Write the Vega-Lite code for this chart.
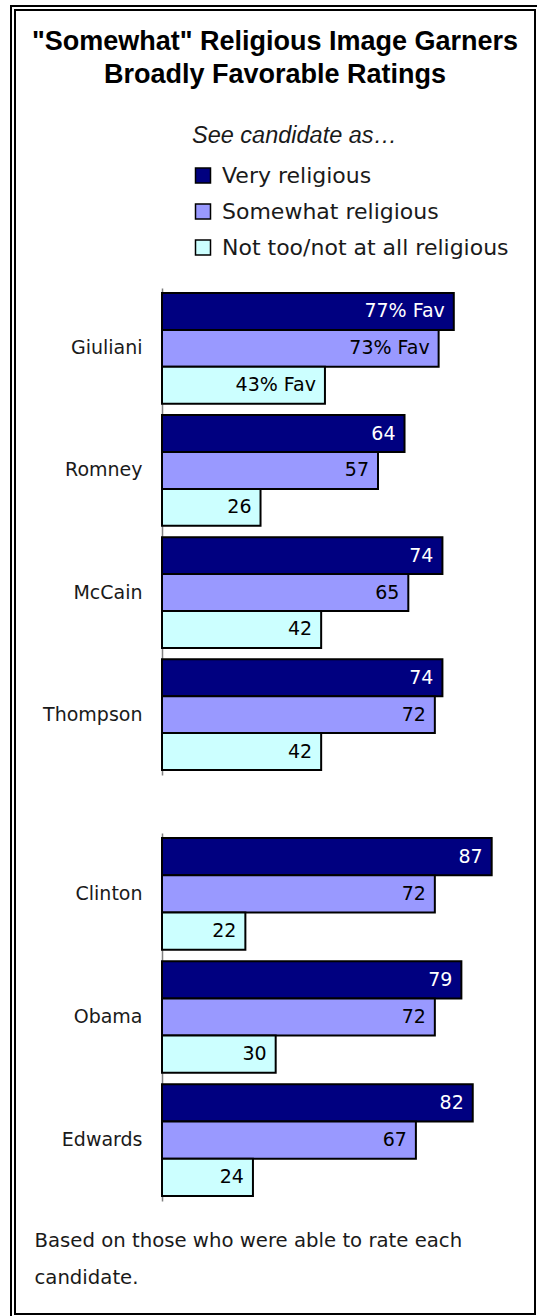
{
  "$schema": "https://vega.github.io/schema/vega-lite/v6.json",
  "width": 524,
  "height": 1308,
  "autosize": {"type": "none"},
  "padding": {"left": 13, "top": 8, "right": 0, "bottom": 0},
  "background": "white",
  "title": {
    "text": ["\"Somewhat\" Religious Image Garners", "Broadly Favorable Ratings"],
    "font": "Liberation Sans",
    "fontSize": 27,
    "fontWeight": "bold",
    "color": "black",
    "lineHeight": 33,
    "anchor": "middle",
    "frame": "group",
    "baseline": "top",
    "offset": -82
  },
  "datasets": {
    "frame": [{"id": 1}],
    "rep": [
      {"candidate": "Giuliani", "category": "Very religious", "value": 77, "label": "77% Fav"},
      {"candidate": "Giuliani", "category": "Somewhat religious", "value": 73, "label": "73% Fav"},
      {"candidate": "Giuliani", "category": "Not too/not at all religious", "value": 43, "label": "43% Fav"},
      {"candidate": "Romney", "category": "Very religious", "value": 64, "label": "64"},
      {"candidate": "Romney", "category": "Somewhat religious", "value": 57, "label": "57"},
      {"candidate": "Romney", "category": "Not too/not at all religious", "value": 26, "label": "26"},
      {"candidate": "McCain", "category": "Very religious", "value": 74, "label": "74"},
      {"candidate": "McCain", "category": "Somewhat religious", "value": 65, "label": "65"},
      {"candidate": "McCain", "category": "Not too/not at all religious", "value": 42, "label": "42"},
      {"candidate": "Thompson", "category": "Very religious", "value": 74, "label": "74"},
      {"candidate": "Thompson", "category": "Somewhat religious", "value": 72, "label": "72"},
      {"candidate": "Thompson", "category": "Not too/not at all religious", "value": 42, "label": "42"}
    ],
    "dem": [
      {"candidate": "Clinton", "category": "Very religious", "value": 87, "label": "87"},
      {"candidate": "Clinton", "category": "Somewhat religious", "value": 72, "label": "72"},
      {"candidate": "Clinton", "category": "Not too/not at all religious", "value": 22, "label": "22"},
      {"candidate": "Obama", "category": "Very religious", "value": 79, "label": "79"},
      {"candidate": "Obama", "category": "Somewhat religious", "value": 72, "label": "72"},
      {"candidate": "Obama", "category": "Not too/not at all religious", "value": 30, "label": "30"},
      {"candidate": "Edwards", "category": "Very religious", "value": 82, "label": "82"},
      {"candidate": "Edwards", "category": "Somewhat religious", "value": 67, "label": "67"},
      {"candidate": "Edwards", "category": "Not too/not at all religious", "value": 24, "label": "24"}
    ]
  },
  "layer": [
    {
      "data": {"name": "frame"},
      "mark": {"type": "rect", "fill": "transparent", "stroke": "white", "strokeWidth": 2, "clip": false},
      "encoding": {}
    },
    {
      "data": {"name": "rep"},
      "layer": [
        {
          "mark": {"type": "bar", "stroke": "black", "strokeWidth": 2},
          "encoding": {
            "y": {
              "field": "candidate", "type": "nominal",
              "scale": {"domain": ["Giuliani", "Romney", "McCain", "Thompson"], "range": [280, 767], "paddingInner": 0.094, "paddingOuter": 0.041},
              "axis": {"orient": "left", "offset": -149, "title": null, "ticks": false, "domain": true, "domainColor": "#808080", "domainWidth": 1.5, "labelPadding": 20, "labelFont": "DejaVu Sans", "labelFontSize": 19, "labelColor": "#1a1a1a", "grid": false}
            },
            "yOffset": {
              "field": "category", "type": "nominal",
              "sort": ["Very religious", "Somewhat religious", "Not too/not at all religious"],
              "scale": {"paddingInner": 0, "paddingOuter": 0}
            },
            "x": {
              "field": "value", "type": "quantitative",
              "scale": {"domain": [0, 95], "range": [149, 509], "nice": false, "zero": true},
              "axis": {"orient": "bottom", "domain": false, "ticks": false, "labels": false, "grid": false,
                "title": ["Based on those who were able to rate each", "candidate."],
                "titleFont": "DejaVu Sans", "titleFontSize": 19.7, "titleFontWeight": "normal", "titleColor": "#1a1a1a",
                "titleLineHeight": 37, "titleBaseline": "top", "titleAlign": "left", "titleAnchor": "start", "titleX": 21, "titleY": -86, "titleLimit": 600}
            },
            "color": {
              "field": "category", "type": "nominal",
              "scale": {"domain": ["Very religious", "Somewhat religious", "Not too/not at all religious"], "range": ["#000080", "#9999ff", "#ccffff"]},
              "legend": {"title": "See candidate as…", "orient": "none", "legendX": 179, "legendY": 116, "padding": 0,
                "titleFont": "Liberation Sans", "titleFontSize": 23.5, "titleFontStyle": "italic", "titleFontWeight": "normal", "titleColor": "#1a1a1a", "titlePadding": 17, "titleLimit": 400,
                "symbolType": "square", "symbolSize": 225, "symbolStrokeColor": "black", "symbolStrokeWidth": 1.5,
                "labelFont": "DejaVu Sans", "labelFontSize": 22, "labelColor": "#1a1a1a", "labelOffset": 8, "rowPadding": 14, "labelLimit": 400}
            }
          }
        },
        {
          "mark": {"type": "text", "align": "right", "baseline": "middle", "dx": -9, "font": "DejaVu Sans", "fontSize": 19},
          "encoding": {
            "y": {"field": "candidate", "type": "nominal"},
            "yOffset": {"field": "category", "type": "nominal", "sort": ["Very religious", "Somewhat religious", "Not too/not at all religious"]},
            "x": {"field": "value", "type": "quantitative"},
            "text": {"field": "label"},
            "color": {"condition": {"test": "datum.category == 'Very religious'", "value": "white"}, "value": "black"}
          }
        }
      ]
    },
    {
      "data": {"name": "dem"},
      "layer": [
        {
          "mark": {"type": "bar", "stroke": "black", "strokeWidth": 2},
          "encoding": {
            "y": {
              "field": "candidate", "type": "nominal",
              "scale": {"domain": ["Clinton", "Obama", "Edwards"], "range": [825, 1193], "paddingInner": 0.094, "paddingOuter": 0.041},
              "axis": {"orient": "left", "offset": -149, "title": null, "ticks": false, "domain": true, "domainColor": "#808080", "domainWidth": 1.5, "labelPadding": 20, "labelFont": "DejaVu Sans", "labelFontSize": 19, "labelColor": "#1a1a1a", "grid": false}
            },
            "yOffset": {
              "field": "category", "type": "nominal",
              "sort": ["Very religious", "Somewhat religious", "Not too/not at all religious"],
              "scale": {"paddingInner": 0, "paddingOuter": 0}
            },
            "x": {
              "field": "value", "type": "quantitative",
              "axis": {"orient": "bottom", "domain": false, "ticks": false, "labels": false, "grid": false,
                "title": ["Based on those who were able to rate each", "candidate."],
                "titleFont": "DejaVu Sans", "titleFontSize": 19.7, "titleFontWeight": "normal", "titleColor": "#1a1a1a",
                "titleLineHeight": 37, "titleBaseline": "top", "titleAlign": "left", "titleAnchor": "start", "titleX": 21, "titleY": -86, "titleLimit": 600}
            },
            "color": {
              "field": "category", "type": "nominal",
              "legend": {"title": "See candidate as…", "orient": "none", "legendX": 179, "legendY": 116, "padding": 0,
                "titleFont": "Liberation Sans", "titleFontSize": 23.5, "titleFontStyle": "italic", "titleFontWeight": "normal", "titleColor": "#1a1a1a", "titlePadding": 17, "titleLimit": 400,
                "symbolType": "square", "symbolSize": 225, "symbolStrokeColor": "black", "symbolStrokeWidth": 1.5,
                "labelFont": "DejaVu Sans", "labelFontSize": 22, "labelColor": "#1a1a1a", "labelOffset": 8, "rowPadding": 14, "labelLimit": 400}
            }
          }
        },
        {
          "mark": {"type": "text", "align": "right", "baseline": "middle", "dx": -9, "font": "DejaVu Sans", "fontSize": 19},
          "encoding": {
            "y": {"field": "candidate", "type": "nominal"},
            "yOffset": {"field": "category", "type": "nominal", "sort": ["Very religious", "Somewhat religious", "Not too/not at all religious"]},
            "x": {"field": "value", "type": "quantitative"},
            "text": {"field": "label"},
            "color": {"condition": {"test": "datum.category == 'Very religious'", "value": "white"}, "value": "black"}
          }
        }
      ]
    }
  ],
  "resolve": {"scale": {"y": "independent", "yOffset": "independent"}, "axis": {"y": "independent"}},
  "config": {
    "view": {"stroke": "black", "strokeWidth": 6},
    "font": "DejaVu Sans"
  }
}
